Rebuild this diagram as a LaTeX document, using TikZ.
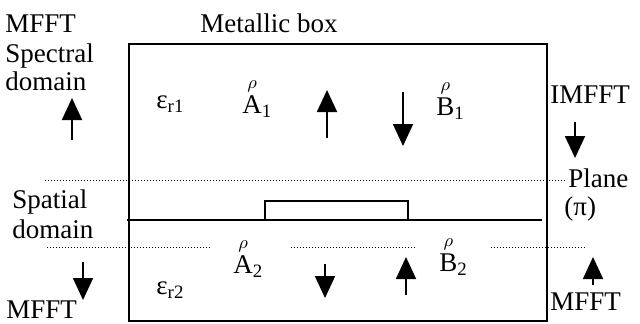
\documentclass[tikz,border=0pt]{standalone}
\usepackage{amsmath}
\usepackage{fontspec}
\setmainfont{Liberation Serif}
\usetikzlibrary{arrows.meta}
\newcommand{\rhovec}[2]{$\overset{\scriptstyle\rho}{\text{#1}}_{\text{#2}}$}

\begin{document}
\begin{tikzpicture}[
  x=0.5pt, y=-0.5pt,
  lbl/.style={anchor=base west, inner sep=0pt, font=\fontsize{13.5}{16}\selectfont},
  flow/.style={-{Triangle[length=11pt, width=10pt]}, line width=0.9pt},
  wall/.style={line width=1pt},
  level/.style={densely dotted, line width=0.5pt}
]
\useasboundingbox (0,0) rectangle (640,323);

% metallic box, ground plane and strip
\draw[wall] (129,44) rectangle (547,321);
\draw[wall] (127,220) -- (542,220);
\draw[wall] (265,220) -- (265,201) -- (408,201) -- (408,220);

% reference levels
\draw[level] (45,180) -- (567,180);
\draw[level] (47,247) -- (210,247);
\draw[level] (291,247) -- (417,247);
\draw[level] (491,247) -- (585,247);

% labels
\node[lbl] (mfftTop) at (5,32) {MFFT};
\node[lbl] (spectral) at (5,62) {Spectral};
\node[lbl] (specDom) at (5,90) {domain};
\node[lbl] (box) at (200,32) {Metallic box};
\node[lbl] (imfft) at (550,103) {IMFFT};
\node[lbl] (plane) at (568,187) {Plane};
\node[lbl] (pi) at (564,215) {(π)};
\node[lbl] (spatial) at (12,208) {Spatial};
\node[lbl] (spatDom) at (12,238) {domain};
\node[lbl] (mfftBot) at (6,318) {MFFT};
\node[lbl] (mfftRight) at (550,310) {MFFT};

\node[lbl] (eps1) at (156,108) {ε\textsubscript{r1}};
\node[lbl] (A1) at (242,113) {\rhovec{A}{1}};
\node[lbl] (B1) at (436,115) {\rhovec{B}{1}};
\node[lbl] (eps2) at (156,294) {ε\textsubscript{r2}};
\node[lbl] (A2) at (233,273) {\rhovec{A}{2}};
\node[lbl] (B2) at (439,271) {\rhovec{B}{2}};

% transform arrows
\draw[flow] (72,140) -- (72,98);
\draw[flow] (327,138) -- (327,90);
\draw[flow] (403,92) -- (403,146);
\draw[flow] (575,122) -- (575,158);
\draw[flow] (83,262) -- (83,300);
\draw[flow] (325,264) -- (325,298);
\draw[flow] (406,295) -- (406,257);
\draw[flow] (593,285) -- (593,257);
\end{tikzpicture}
\end{document}
